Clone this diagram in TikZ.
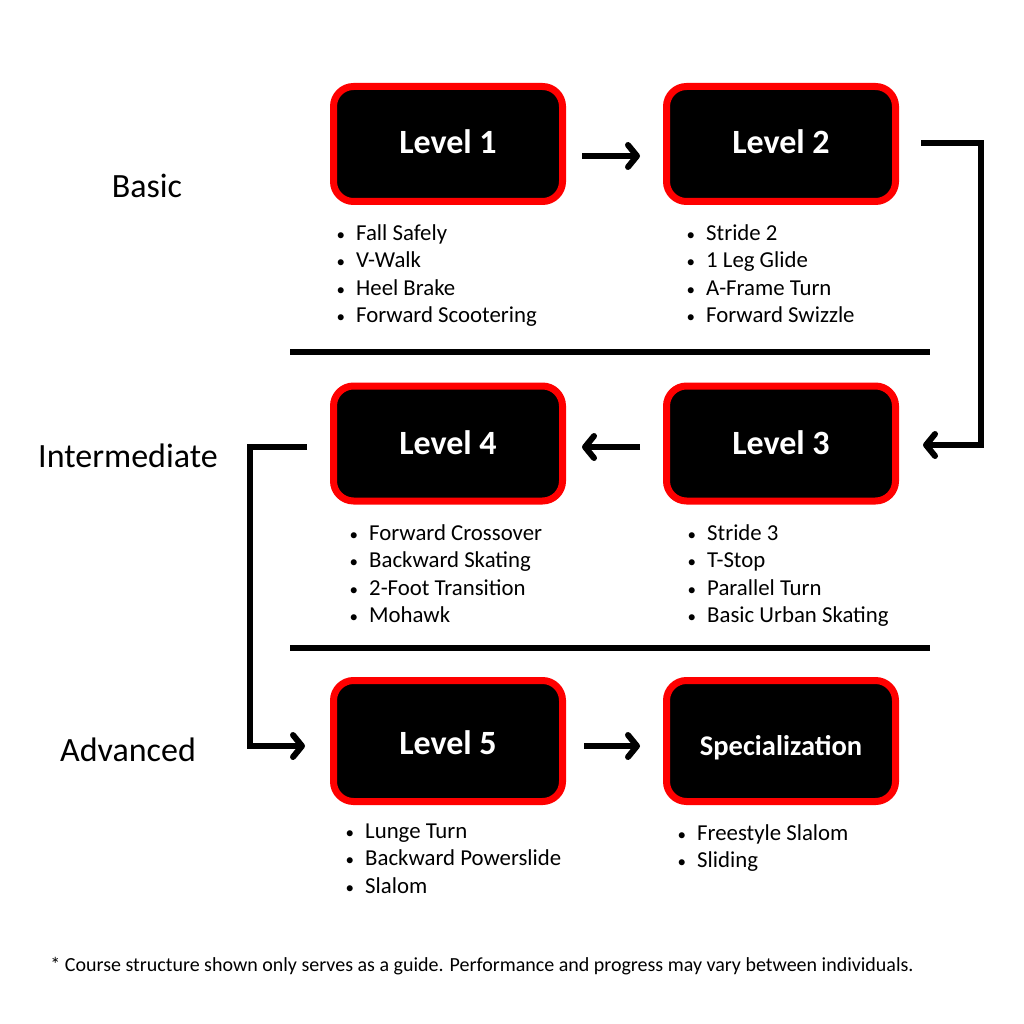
\documentclass[tikz,border=0pt]{standalone}
\usepackage{fontspec}
\setmainfont{Carlito}
\usetikzlibrary{arrows.meta}
\tikzset{
  levelbox/.style={draw=red, fill=black, line width=7pt, rounded corners=20pt,
    minimum width=229pt, minimum height=115pt, inner sep=0pt,
    text=white, font=\fontsize{34}{38}\selectfont\bfseries},
  flow/.style={line width=6pt, line join=miter},
  flowarrow/.style={flow, -{Straight Barb[length=9pt,width=22pt,round]}},
  sep/.style={line width=6pt},
  tier/.style={inner sep=0pt, font=\fontsize{34}{38}\selectfont},
  item/.style={anchor=base west, inner sep=0pt, font=\fontsize{22.8}{26}\selectfont},
  note/.style={inner sep=0pt, font=\fontsize{20}{24}\selectfont}
}
\newcommand{\bul}[1]{\llap{{\fontsize{17}{17}\selectfont\textbullet}\hspace{11pt}}#1}
\newcommand{\lift}[2]{\raisebox{#1}[\height][\depth]{#2}}
\begin{document}
\begin{tikzpicture}[x=1pt,y=-1pt]
\useasboundingbox (0,0) rectangle (1024,1024);
% boxes
\node[levelbox] (b1) at (448,144) {\lift{2pt}{Level 1}};
\node[levelbox] (b2) at (781,144) {\lift{2pt}{Level 2}};
\node[levelbox] (b4) at (448,443.5) {\lift{1pt}{Level 4}};
\node[levelbox] (b3) at (781,443.5) {\lift{1pt}{Level 3}};
\node[levelbox, minimum height=121pt] (b5) at (448,741) {\lift{-2pt}{Level 5}};
\node[levelbox, minimum height=121pt, font=\fontsize{28.5}{32}\selectfont\bfseries] (b6) at (781,741) {\lift{-7pt}{Specialization}};
% tier labels
\node[tier] (tbasic) at (147,186) {Basic};
\node[tier] (tinter) at (128,456) {Intermediate};
\node[tier] (tadv) at (128,750) {Advanced};
% separators
\coordinate (s1a) at (290,352); \coordinate (s1b) at (930,352);
\coordinate (s2a) at (290,648); \coordinate (s2b) at (930,648);
\draw[sep] (s1a) -- (s1b);
\draw[sep] (s2a) -- (s2b);
% arrows
\coordinate (a12s) at (582,156); \coordinate (a12e) at (640,156);
\draw[flowarrow] (a12s) -- (a12e);
\coordinate (a23s) at (921,143); \coordinate (a23e) at (923,445);
\draw[flowarrow] (a23s) -- (981,143) -- (981,445) -- (a23e);
\coordinate (a34s) at (640,447); \coordinate (a34e) at (582,447);
\draw[flowarrow] (a34s) -- (a34e);
\coordinate (a45s) at (307,447); \coordinate (a45e) at (305,746);
\draw[flowarrow] (a45s) -- (250,447) -- (250,746) -- (a45e);
\coordinate (a56s) at (584,746); \coordinate (a56e) at (640,746);
\draw[flowarrow] (a56s) -- (a56e);
% lists
\foreach \t [count=\i] in {Fall Safely, V-Walk, Heel Brake, Forward Scootering}
  \node[item] (l1i\i) at (356,{240.5+27.3*(\i-1)}) {\bul{\t}};
\foreach \t [count=\i] in {Stride 2, 1 Leg Glide, A-Frame Turn, Forward Swizzle}
  \node[item] (l2i\i) at (706,{240.5+27.3*(\i-1)}) {\bul{\t}};
\foreach \t [count=\i] in {Forward Crossover, Backward Skating, 2-Foot Transition, Mohawk}
  \node[item] (l4i\i) at (369,{540.5+27.3*(\i-1)}) {\bul{\t}};
\foreach \t [count=\i] in {Stride 3, T-Stop, Parallel Turn, Basic Urban Skating}
  \node[item] (l3i\i) at (707,{540.5+27.3*(\i-1)}) {\bul{\t}};
\foreach \t [count=\i] in {Lunge Turn, Backward Powerslide, Slalom}
  \node[item] (l5i\i) at (365,{838.5+27.3*(\i-1)}) {\bul{\t}};
\foreach \t [count=\i] in {Freestyle Slalom, Sliding}
  \node[item] (l6i\i) at (697,{840.5+27.3*(\i-1)}) {\bul{\t}};
% footnote
\node[note] (fn) at (482,966) {* Course structure shown only serves as a guide. Performance and progress may vary between individuals.};
\end{tikzpicture}
\end{document}
